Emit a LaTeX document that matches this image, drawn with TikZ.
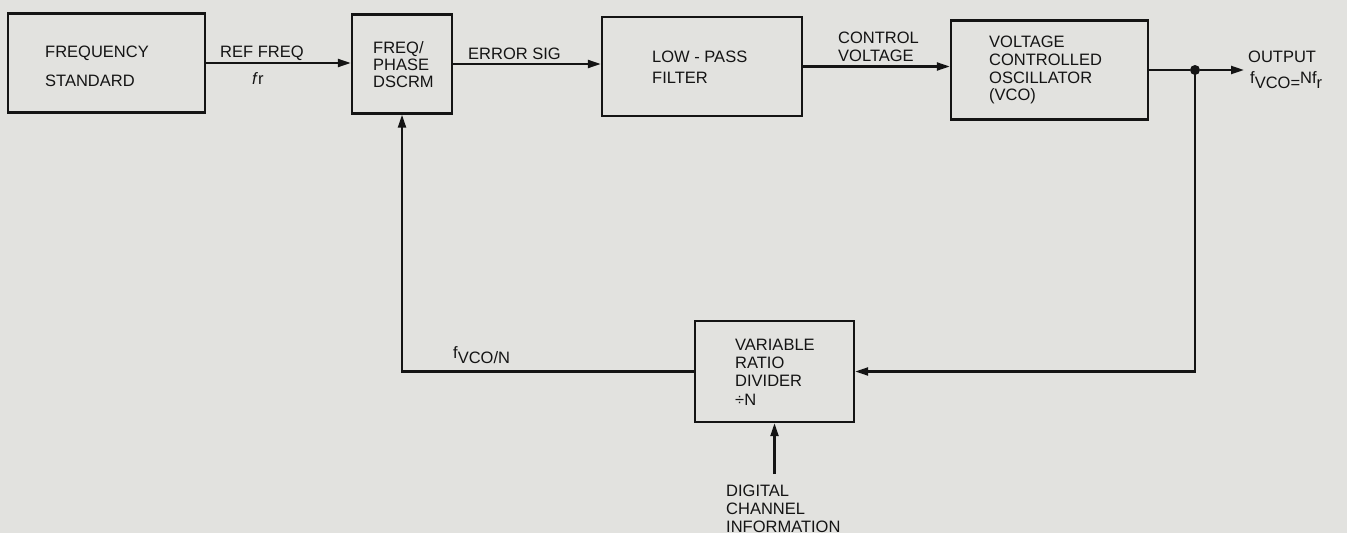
\documentclass[tikz,border=0pt]{standalone}
\usepackage{fontspec}
\setmainfont{Liberation Sans}
\usetikzlibrary{arrows.meta}
\definecolor{paper}{RGB}{226,226,223}
\definecolor{ink}{RGB}{20,20,20}
\tikzset{
  blk/.style={draw=ink, line width=2.4pt, fill=paper, inner sep=0pt},
  lbl/.style={anchor=base west, inner sep=0pt, text=ink, font=\fontsize{16.5}{18}\selectfont},
  wire/.style={draw=ink, line width=2.2pt},
  arr/.style={wire, -{Triangle[length=13pt,width=8pt]}},
  dotnode/.style={circle, fill=ink, inner sep=0pt, minimum size=10pt}
}
\begin{document}
\begin{tikzpicture}[x=1pt,y=-1pt]
\fill[paper] (0,0) rectangle (1347,533);
\useasboundingbox (0,0) rectangle (1347,533);
% blocks
\node[blk, minimum width=197pt, minimum height=99pt] (fs) at (106.5,63) {};
\node[blk, minimum width=100pt, minimum height=99pt] (pd) at (402,64) {};
\node[blk, minimum width=200pt, minimum height=99pt] (lp) at (702,66.5) {};
\node[blk, minimum width=197pt, minimum height=99pt] (vco) at (1049.5,70) {};
\node[blk, minimum width=159pt, minimum height=101pt] (div) at (774.5,371.5) {};
% block texts
\node[lbl] (t1) at (45,57) {FREQUENCY};
\node[lbl] (t2) at (45,86) {STANDARD};
\node[lbl] (t3) at (373,53) {FREQ/};
\node[lbl] (t4) at (373,70) {PHASE};
\node[lbl] (t5) at (373,87) {DSCRM};
\node[lbl] (t6) at (652,62) {LOW - PASS};
\node[lbl] (t7) at (652,83) {FILTER};
\node[lbl] (t8) at (989,47) {VOLTAGE};
\node[lbl] (t9) at (989,65) {CONTROLLED};
\node[lbl] (t10) at (989,83) {OSCILLATOR};
\node[lbl] (t11) at (989,100) {(VCO)};
\node[lbl] (t12) at (735,350) {VARIABLE};
\node[lbl] (t13) at (735,368) {RATIO};
\node[lbl] (t14) at (735,386) {DIVIDER};
\node[lbl] (t15) at (735,405) {÷N};
% connector labels
\node[lbl] (l1) at (220,57) {REF FREQ};
\node[lbl] (l2) at (252,84) {\textit{f}r};
\node[lbl] (l3) at (468,59) {ERROR SIG};
\node[lbl] (l4) at (838,43) {CONTROL};
\node[lbl] (l5) at (838,61) {VOLTAGE};
\node[lbl] (l6) at (1248,62) {OUTPUT};
\node[lbl] (l7) at (1250,83) {f\raisebox{-5pt}{VCO=}Nf\raisebox{-5pt}{r}};
\node[lbl] (l8) at (453,358) {f\raisebox{-5pt}{VCO/N}};
\node[lbl] (l9) at (726,496) {DIGITAL};
\node[lbl] (l10) at (726,514) {CHANNEL};
\node[lbl] (l11) at (726,532) {INFORMATION};
% connectors
\draw[arr] (fs.east) -- (fs.east -| pd.west);
\draw[arr] (pd.east) -- (pd.east -| lp.west);
\draw[arr] (lp.east) -- (lp.east -| vco.west);
\node[dotnode] (j) at (1195,70) {};
\coordinate (out) at (1244,70);
\draw[wire] (vco.east) -- (j);
\draw[arr] (j) -- (out);
\draw[arr] (j.center) |- (div.east);
\draw[arr] (div.west) -| (pd.south);
\coordinate (dig) at (774.5,474);
\draw[arr] (dig) -- (div.south);
\end{tikzpicture}
\end{document}
